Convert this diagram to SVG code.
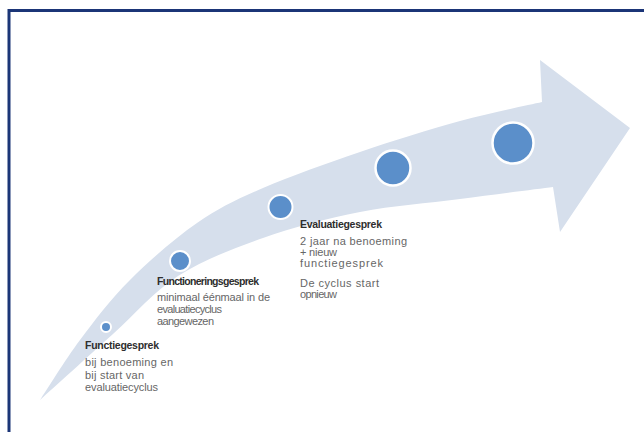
<svg xmlns="http://www.w3.org/2000/svg" width="644" height="432" viewBox="0 0 644 432">
<style>
  .frame { fill: #ffffff; stroke: #1b3577; stroke-width: 3; }
  .band { fill: #d6dfec; }
  .dot { fill: #5b8fca; stroke: #ffffff; }
  .title { font-family: "Liberation Sans", Arial, sans-serif; font-weight: bold; font-size: 10.5px; fill: #2e2e2e; }
  .body { font-family: "Liberation Sans", Arial, sans-serif; font-size: 11px; fill: #666666; }
</style>
<rect x="0" y="0" width="644" height="432" fill="#ffffff"/>
<rect class="frame" x="9" y="10.5" width="700" height="500"/>
<g id="arrow">
  <path class="band" d="M40,400 C46.7,390 65,360 80,340 C95,320 110.5,299.5 130,280 C149.5,260.5 174.8,238.3 197,223 C219.2,207.7 235.8,199.8 263,188 C290.2,176.2 327.2,163.2 360,152 C392.8,140.8 429.7,129.3 460,121 C490.3,112.7 528.3,105.2 542,102 L540,60 L630,128 L560,232 L553,187 C537.5,189 492.2,194.8 460,199 C427.8,203.2 392.8,205.5 360,212 C327.2,218.5 293.3,227.3 263,238 C232.7,248.7 203,260 178,276 C153,292 136,313.3 113,334 C90,354.7 52.2,389 40,400 Z"/>
</g>
<g id="connectors"></g>
<g id="node-functiegesprek">
  <circle class="dot" cx="106" cy="327" r="5" stroke-width="2"/>
  <text class="title" x="85" y="349" textLength="74">Functiegesprek</text>
  <text class="body" x="85" y="366" textLength="88">bij benoeming  en</text>
  <text class="body" x="85" y="378.5" textLength="59">bij start van</text>
  <text class="body" x="85" y="391" textLength="73">evaluatiecyclus</text>
</g>
<g id="node-functioneringsgesprek">
  <circle class="dot" cx="180" cy="261" r="10" stroke-width="2"/>
  <text class="title" x="157" y="285" textLength="102">Functioneringsgesprek</text>
  <text class="body" x="157" y="300.5" textLength="113">minimaal éénmaal in de</text>
  <text class="body" x="157" y="312.5" textLength="65">evaluatiecyclus</text>
  <text class="body" x="157" y="325" textLength="57">aangewezen</text>
</g>
<g id="node-evaluatiegesprek">
  <circle class="dot" cx="280.5" cy="207" r="12" stroke-width="2"/>
  <text class="title" x="300" y="228" textLength="82">Evaluatiegesprek</text>
  <text class="body" x="300" y="244.5" textLength="107">2 jaar na benoeming</text>
  <text class="body" x="300" y="255.5" textLength="37">+ nieuw</text>
  <text class="body" x="300" y="267" textLength="83">functiegesprek</text>
  <text class="body" x="300" y="287" textLength="79">De cyclus start</text>
  <text class="body" x="300" y="298" textLength="37">opnieuw</text>
</g>
<g id="node-stap4">
  <circle class="dot" cx="393" cy="168" r="17.5" stroke-width="2.5"/>
</g>
<g id="node-stap5">
  <circle class="dot" cx="513" cy="143" r="20.5" stroke-width="2.5"/>
</g>
</svg>
